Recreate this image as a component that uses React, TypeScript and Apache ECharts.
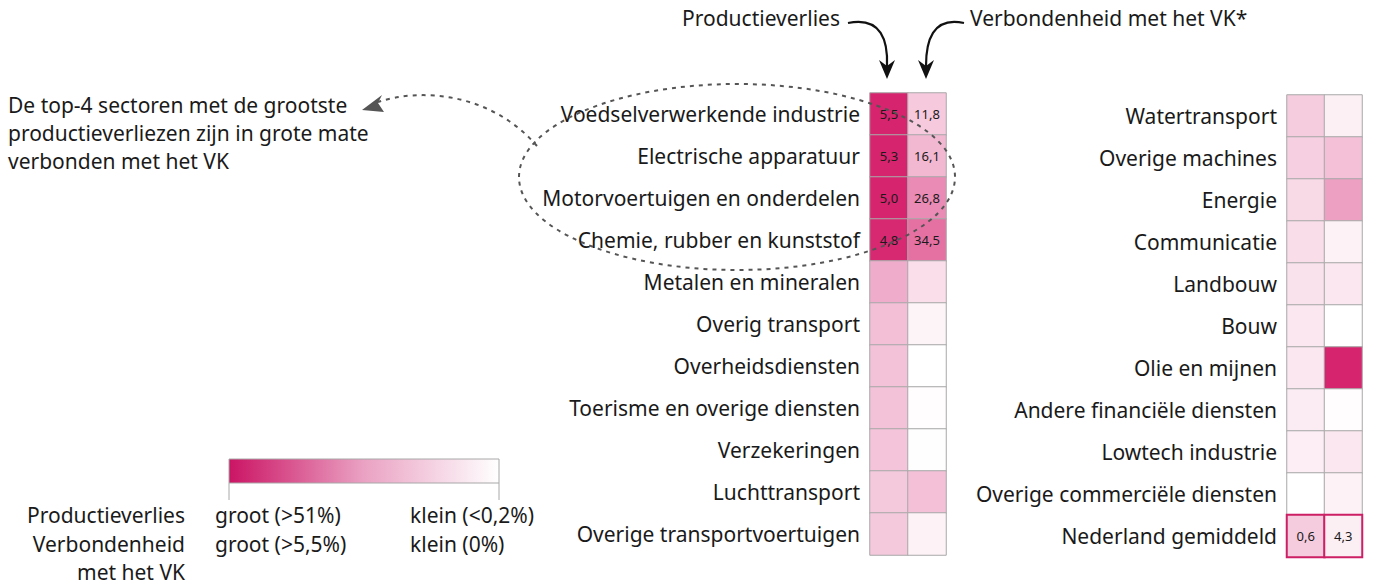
import React, { useEffect, useRef } from "react";
import * as echarts from "echarts";

const leftSectors = [
  "Voedselverwerkende industrie",
  "Electrische apparatuur",
  "Motorvoertuigen en onderdelen",
  "Chemie, rubber en kunststof",
  "Metalen en mineralen",
  "Overig transport",
  "Overheidsdiensten",
  "Toerisme en overige diensten",
  "Verzekeringen",
  "Luchttransport",
  "Overige transportvoertuigen",
];
const leftLoss = [5.5, 5.3, 5.0, 4.8, 1.5, 1.0, 0.9, 0.9, 0.8, 0.7, 0.7];
const leftLink = [11.8, 16.1, 26.8, 34.5, 7.5, 3.0, 0, 0.5, 0.3, 14, 3.5];
const leftLabelled = [0, 1, 2, 3];

const rightSectors = [
  "Watertransport",
  "Overige machines",
  "Energie",
  "Communicatie",
  "Landbouw",
  "Bouw",
  "Olie en mijnen",
  "Andere financiële diensten",
  "Lowtech industrie",
  "Overige commerciële diensten",
  "Nederland gemiddeld",
];
const rightLoss = [0.6, 0.5, 0.4, 0.35, 0.3, 0.25, 0.25, 0.2, 0.18, 0, 0.6];
const rightLink = [4.0, 14, 22, 3.5, 6, 0, 60, 0.5, 6, 3.5, 4.3];
const rightLabelled = [10];
const rightHighlighted = [10];

const columns = ["Productieverlies", "Verbondenheid met het VK"];

const lossColors = [
  "#ffffff", "#f6cfe0", "#f2bfd6", "#efaccb", "#ea95bc", "#e67fae",
  "#e26a9f", "#de5590", "#da4282", "#d83077", "#d6246e",
];
const linkColors = [
  "#ffffff", "#fcecf2", "#f7d1e2", "#f3bcd4", "#efa9c8", "#eb92ba", "#e77fad",
  "#e56fa2", "#e2609a", "#df5290", "#dc4385", "#d93379", "#d6246e",
];

const FONT = "'Noto Sans', sans-serif";
const FS = 21;
const TXT = "#1a1a1a";

function fmt(v: number) {
  return v.toFixed(1).replace(".", ",");
}

function buildData(col: number, vals: number[], labelled: number[], highlighted: number[]) {
  return vals.map((v, i) => {
    const item: any = { value: [col, i, v] };
    if (labelled.includes(i)) {
      item.label = { show: true };
    }
    if (highlighted.includes(i)) {
      item.itemStyle = { borderColor: "#cc1f64", borderWidth: 2 };
    }
    return item;
  });
}

export default function App() {
  const ref = useRef<HTMLDivElement>(null);
  useEffect(() => {
    if (!ref.current) return;
    const chart = echarts.init(ref.current, null, { renderer: "svg" });

    const yAxisBase = (cats: string[], gi: number) => ({
      type: "category",
      gridIndex: gi,
      data: cats,
      inverse: true,
      axisLine: { show: false },
      axisTick: { show: false },
      splitLine: { show: false },
      axisLabel: { fontSize: FS, color: TXT, fontFamily: FONT, margin: 10 },
    });
    const xAxisBase = (gi: number) => ({
      type: "category",
      gridIndex: gi,
      data: columns,
      show: false,
    });
    const seriesBase = (gi: number, data: any[]) => ({
      type: "heatmap",
      xAxisIndex: gi,
      yAxisIndex: gi,
      data,
      itemStyle: { borderColor: "#a8a8a8", borderWidth: 1 },
      label: {
        show: false,
        fontSize: 13,
        color: TXT,
        fontFamily: FONT,
        formatter: (p: any) => fmt(p.value[2]),
      },
      emphasis: { disabled: true },
    });

    const arrowHead = (x: number, y: number, color: string) => ({
      type: "polygon",
      shape: { points: [[x - 8, y - 19], [x, y - 13], [x + 8, y - 19], [x, y]] },
      style: { fill: color },
      z: 100,
    });

    const txt = (x: number, y: number, text: string, align: string = "left") => ({
      type: "text",
      x,
      y,
      style: {
        text,
        font: `${FS}px ${FONT}`,
        fill: TXT,
        textAlign: align,
        textVerticalAlign: "middle",
      },
    });

    chart.setOption({
      animation: false,
      grid: [
        { left: 870, top: 93, width: 76, height: 462 },
        { left: 1287, top: 95, width: 75, height: 462 },
      ],
      xAxis: [xAxisBase(0), xAxisBase(1)],
      yAxis: [yAxisBase(leftSectors, 0), yAxisBase(rightSectors, 1)],
      visualMap: [
        { type: "continuous", show: false, min: 0, max: 5, dimension: 2, seriesIndex: [0, 2], inRange: { color: lossColors } },
        { type: "continuous", show: false, min: 0, max: 60, dimension: 2, seriesIndex: [1, 3], inRange: { color: linkColors } },
      ],
      series: [
        seriesBase(0, buildData(0, leftLoss, leftLabelled, [])),
        seriesBase(0, buildData(1, leftLink, leftLabelled, [])),
        seriesBase(1, buildData(0, rightLoss, rightLabelled, rightHighlighted)),
        seriesBase(1, buildData(1, rightLink, rightLabelled, rightHighlighted)),
      ],
      graphic: [
        // top headers
        txt(840, 18, "Productieverlies", "right"),
        txt(970, 18, "Verbondenheid met het VK*"),
        { type: "bezierCurve", shape: { x1: 848, y1: 23, cpx1: 882, cpy1: 16, cpx2: 888, cpy2: 42, x2: 887, y2: 66 }, style: { stroke: "#111", lineWidth: 2.2, fill: "none" }, z: 100 },
        arrowHead(887, 79, "#111"),
        { type: "bezierCurve", shape: { x1: 964, y1: 23, cpx1: 932, cpy1: 16, cpx2: 926, cpy2: 42, x2: 926, y2: 66 }, style: { stroke: "#111", lineWidth: 2.2, fill: "none" }, z: 100 },
        arrowHead(926, 79, "#111"),
        // dashed ellipse
        { type: "ellipse", shape: { cx: 737, cy: 177, rx: 218, ry: 93 }, style: { stroke: "#555", lineWidth: 2, lineDash: [4, 5], fill: "none" }, z: 100 },
        { type: "bezierCurve", shape: { x1: 537, y1: 146, cpx1: 490, cpy1: 92, cpx2: 420, cpy2: 88, x2: 378, y2: 102 }, style: { stroke: "#555", lineWidth: 2, lineDash: [4, 5], fill: "none" }, z: 100 },
        { type: "polygon", shape: { points: [[362, 110], [382, 95], [378, 103], [384, 112]] }, style: { fill: "#555" }, z: 100 },
        // annotation text
        txt(8, 105, "De top-4 sectoren met de grootste"),
        txt(8, 133, "productieverliezen zijn in grote mate"),
        txt(8, 161, "verbonden met het VK"),
        // legend
        {
          type: "rect",
          shape: { x: 229, y: 459, width: 270, height: 24 },
          style: {
            fill: new echarts.graphic.LinearGradient(0, 0, 1, 0, [
              { offset: 0, color: "#cb1464" },
              { offset: 0.5, color: "#eaa2c3" },
              { offset: 1, color: "#ffffff" },
            ]),
            stroke: "#a8a8a8",
            lineWidth: 1,
          },
        },
        { type: "line", shape: { x1: 229, y1: 483, x2: 229, y2: 500 }, style: { stroke: "#a8a8a8", lineWidth: 1 } },
        { type: "line", shape: { x1: 499, y1: 483, x2: 499, y2: 500 }, style: { stroke: "#a8a8a8", lineWidth: 1 } },
        txt(185, 515, "Productieverlies", "right"),
        txt(185, 544, "Verbondenheid", "right"),
        txt(185, 572, "met het VK", "right"),
        txt(215, 515, "groot (>51%)"),
        txt(215, 544, "groot (>5,5%)"),
        txt(410, 515, "klein (<0,2%)"),
        txt(410, 544, "klein (0%)"),
      ],
    });
    return () => chart.dispose();
  }, []);
  return (
    <div
      ref={ref}
      style={{ position: "fixed", left: 0, top: 0, width: 1379, height: 587, background: "#fff" }}
    />
  );
}
